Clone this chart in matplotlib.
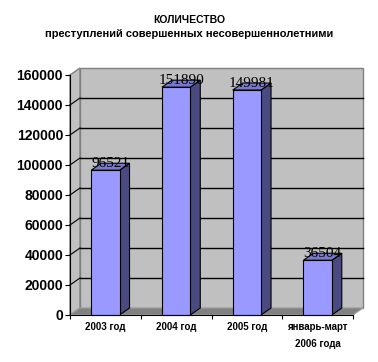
import matplotlib
matplotlib.use("Agg")
import matplotlib.pyplot as plt
from matplotlib.patches import Polygon, Rectangle

categories = ["2003 год", "2004 год", "2005 год", "январь-март\n2006 года"]
values = [96521, 151890, 149981, 36504]
yticks = [0, 20000, 40000, 60000, 80000, 100000, 120000, 140000, 160000]

title1 = "КОЛИЧЕСТВО"
title2 = "преступлений совершенных несовершеннолетними"

W, H = 378, 362
fig = plt.figure(figsize=(W / 100, H / 100), dpi=100)
fig.patch.set_facecolor("white")

ax = fig.add_axes([70 / W, (H - 315) / H, (353 - 70) / W, 240 / H])
ymax = 160000
n = len(categories)
ax.set_xlim(0, n)
ax.set_ylim(0, ymax)
ax.set_facecolor("none")

dx = 10 / 70.7          # depth in category units
dy = 7 / 240 * ymax     # depth in value units
bw = 0.40

wall_c = "#C0C0C0"
edge_c = "#808080"

# back wall
ax.add_patch(Polygon([(dx, dy), (n + dx, dy), (n + dx, ymax + dy), (dx, ymax + dy)],
                     closed=True, facecolor=wall_c, edgecolor=edge_c, lw=1.0,
                     clip_on=False, zorder=1))
# side wall
ax.add_patch(Polygon([(0, 0), (dx, dy), (dx, ymax + dy), (0, ymax)],
                     closed=True, facecolor=wall_c, edgecolor=edge_c, lw=1.0,
                     clip_on=False, zorder=1))
# gridlines
for v in yticks[1:-1]:
    ax.plot([dx, n + dx], [v + dy, v + dy], color="black", lw=1.0, zorder=2,
            clip_on=False)
    ax.plot([0, dx], [v, v + dy], color="black", lw=0.8, zorder=2, clip_on=False)
# floor
ax.add_patch(Polygon([(0, 0), (n, 0), (n + dx, dy), (dx, dy)],
                     closed=True, facecolor="#808080", edgecolor="#A0A0A0", lw=0.8,
                     clip_on=False, zorder=3))

# bars
for i, v in enumerate(values):
    x0 = i + 0.5 - bw / 2
    x1 = i + 0.5 + bw / 2
    ax.add_patch(Polygon([(x1, 0), (x1 + dx, dy), (x1 + dx, v + dy), (x1, v)],
                         closed=True, facecolor="#4A4A80", edgecolor="black", lw=0.8,
                         clip_on=False, zorder=4))
    ax.add_patch(Polygon([(x0, v), (x1, v), (x1 + dx, v + dy), (x0 + dx, v + dy)],
                         closed=True, facecolor="#7878CC", edgecolor="black", lw=0.8,
                         clip_on=False, zorder=4))
    ax.add_patch(Rectangle((x0, 0), bw, v, facecolor="#9999FF", edgecolor="black",
                           lw=0.8, clip_on=False, zorder=5))
    ax.text(i + 0.5 + dx / 2, v + 2000, f"{v}", ha="center", va="baseline",
            fontsize=11, family="Liberation Serif", color="black", zorder=6,
            clip_on=False)

# axes styling
for s in ["top", "right"]:
    ax.spines[s].set_visible(False)
ax.spines["left"].set_color("black")
ax.spines["bottom"].set_color("black")
ax.spines["left"].set_zorder(7)
ax.spines["bottom"].set_zorder(7)

ax.set_yticks(yticks)
ax.set_yticklabels([str(t) for t in yticks], fontsize=10,
                   family="Liberation Sans", fontweight="bold")
ax.tick_params(axis="y", length=3.5, width=0.8, pad=1.5)

ax.set_xticks(range(n + 1))
ax.set_xticklabels([""] * (n + 1))
ax.tick_params(axis="x", which="major", length=3, width=0.8, direction="out")
ax.set_xticks([i + 0.5 for i in range(n)], minor=True)
ax.set_xticklabels(categories, minor=True, fontsize=7, family="Liberation Sans",
                   fontweight="bold", linespacing=1.9)
ax.tick_params(axis="x", which="minor", length=0, pad=5)

fig.text(189 / W, 1 - 20 / H, title1, ha="center", va="center", fontsize=7.5,
         fontweight="bold", family="Liberation Sans")
fig.text(189 / W, 1 - 34 / H, title2, ha="center", va="center", fontsize=8,
         fontweight="bold", family="Liberation Sans")

fig.savefig("out.png", dpi=100, facecolor="white")
